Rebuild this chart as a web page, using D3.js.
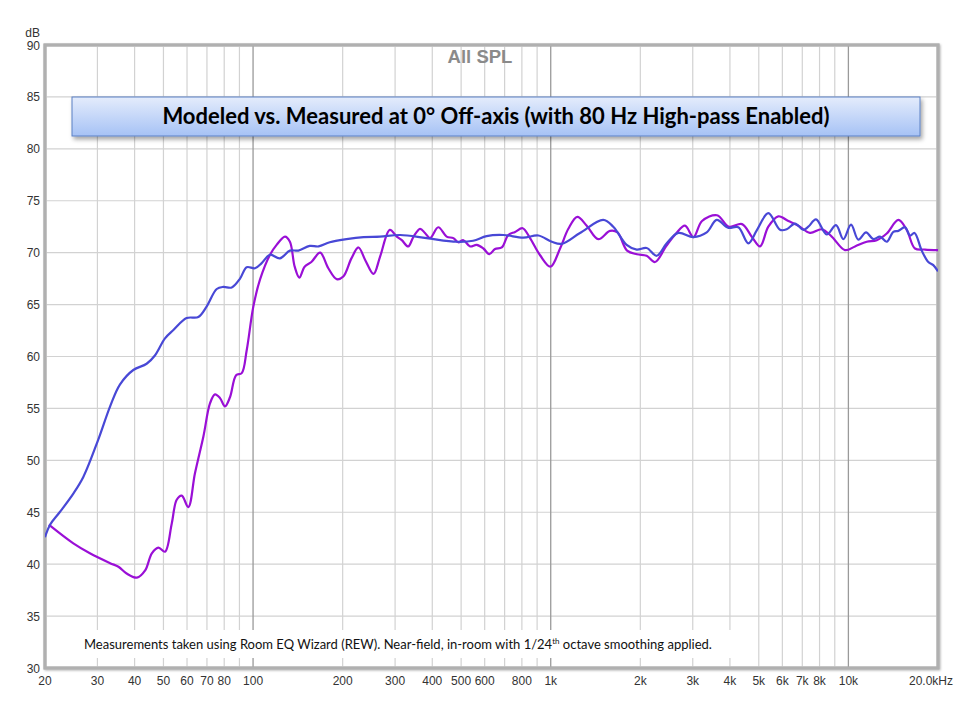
<!DOCTYPE html>
<html>
<head>
<meta charset="utf-8">
<script src="https://cdn.jsdelivr.net/npm/d3@7"></script>
<style>
  html, body { margin: 0; padding: 0; background: #fff; }
  svg { display: block; }
</style>
</head>
<body>
<svg id="chart" width="960" height="720"></svg>
<script>
// ---------------- DATA ----------------
const titleText = "Modeled vs. Measured at 0\u00B0 Off-axis (with 80 Hz High-pass Enabled)";
const chartLabel = "All SPL";
const noteText = "Measurements taken using Room EQ Wizard (REW). Near-field, in-room  with 1/24";
const noteSup = "th";
const noteTail = " octave smoothing  applied.";

const yTicks = [30, 35, 40, 45, 50, 55, 60, 65, 70, 75, 80, 85, 90];
const gridFreqs = [30,40,50,60,70,80,90,100,200,300,400,500,600,700,800,900,
                   1000,2000,3000,4000,5000,6000,7000,8000,9000,10000];
const majorFreqs = [100, 1000, 10000];
const xLabelFreqs = [20,30,40,50,60,70,80,100,200,300,400,500,600,800,1000,2000,3000,4000,5000,6000,7000,8000,10000];
const xLabelTexts = ["20","30","40","50","60","70","80","100","200","300","400","500","600","800","1k","2k","3k","4k","5k","6k","7k","8k","10k"];
const lastLabel = "20.0kHz";

// Series 1 (blue) - Modeled
const modeledFreq = [20,20.8,22.4,24.9,26.9,30.2,33.1,35.7,39.6,43.9,46.8,50.6,54,59.8,65.5,69.8,75.5,79.4,84.8,90.4,
  95.2,101.5,106.9,114,123,133,142,155,166,181,206,235,267,312,383,483,549,609,693,809,
  909,1008,1089,1254,1501,1622,1799,1944,2100,2270,2453,2683,3013,3342,3611,3941,4268,4612,4933,5383,
  5892,6205,6617,7056,7334,7783,8455,9087,9616,10207,10800,11465,12130,12775,13454,14159,14717,15500,16111,16681,
  17630,18556,19287,20000];
const modeledDb = [42.6,43.8,45.0,46.8,48.4,52.0,55.2,57.3,58.7,59.3,60.1,61.75,62.55,63.7,63.8,64.8,66.5,66.7,66.65,67.5,
  68.6,68.5,69.0,69.8,69.45,70.2,70.2,70.65,70.6,71.0,71.3,71.5,71.55,71.7,71.4,71.05,71.15,71.6,71.7,71.45,
  71.65,71.05,70.85,71.9,73.15,72.5,70.75,70.3,70.45,69.7,70.9,71.9,71.5,71.95,73.15,72.4,72.45,70.9,72.2,73.8,
  72.2,72.25,72.8,72.2,72.5,73.2,71.75,72.65,71.3,72.7,71.25,71.95,71.3,71.55,71.05,72.0,72.1,72.45,71.65,71.9,
  70.2,69.1,68.8,68.2];

// Series 2 (purple) - Measured
const measuredFreq = [20.6,24.9,28.3,33.1,35.3,37.6,40.7,43.4,45.7,48.1,50.6,53.3,55.4,57.6,60.6,63.8,68.1,71.7,74.5,77.4,
  80.5,83.7,87.7,91.6,95.2,100.2,105.5,114,120,128,133,138,143,149,157,168,179,191,201,214,
  226,238,254,267,288,304,316,332,346,364,378,393,419,447,471,489,509,536,564,594,
  622,650,685,720,759,805,852,921,998,1075,1146,1228,1321,1445,1582,1676,1805,1949,2100,2241,
  2440,2636,2825,3017,3223,3619,3970,4391,4745,5049,5383,5815,6286,6791,7432,8137,8790,9742,10527,11523,
  12451,13454,14717,15702,16743,18091,20000];
const measuredDb = [43.8,42.0,41.05,40.1,39.75,39.1,38.7,39.4,41.05,41.6,41.2,43.9,46.2,46.6,45.5,48.75,52.3,55.5,56.35,56.0,
  55.2,56.1,58.2,58.4,60.6,64.8,67.4,69.8,70.75,71.55,71.05,68.65,67.6,68.65,69.1,70.0,68.5,67.45,67.7,69.45,
  70.5,69.3,67.95,69.6,72.2,71.55,71.2,70.6,71.55,72.3,71.9,71.4,72.45,71.55,71.4,71.0,71.2,70.6,70.75,70.4,
  69.85,70.35,70.5,71.7,72.0,72.35,71.4,69.75,68.65,70.4,72.3,73.45,72.6,71.3,72.1,71.95,70.2,69.85,69.7,69.1,
  70.6,71.85,72.6,71.5,73.05,73.6,72.5,72.75,71.5,70.6,72.5,73.5,73.05,72.6,71.9,72.25,71.55,70.25,70.6,71.05,
  71.2,71.85,73.15,72.2,70.4,70.3,70.25];

// ---------------- LAYOUT ----------------
const L = 45, R = 938, T = 45, B = 668;
const svg = d3.select("#chart");
const x = d3.scaleLog().domain([20, 20000]).range([L, R]);
const y = d3.scaleLinear().domain([30, 90]).range([B, T]);

const defs = svg.append("defs");
const grad = defs.append("linearGradient").attr("id", "boxGrad")
  .attr("x1", 0).attr("y1", 0).attr("x2", 0).attr("y2", 1);
grad.append("stop").attr("offset", "0%").attr("stop-color", "#e4ecfc");
grad.append("stop").attr("offset", "100%").attr("stop-color", "#a6c2f5");
const sh = defs.append("filter").attr("id", "shadow").attr("x", "-5%").attr("y", "-20%").attr("width", "110%").attr("height", "160%");
sh.append("feDropShadow").attr("dx", 2).attr("dy", 3).attr("stdDeviation", 2).attr("flood-color", "#000").attr("flood-opacity", 0.35);
const sh2 = defs.append("filter").attr("id", "pshadow").attr("x", "-2%").attr("y", "-2%").attr("width", "104%").attr("height", "104%");
sh2.append("feDropShadow").attr("dx", 1).attr("dy", 1).attr("stdDeviation", 1.2).attr("flood-color", "#000").attr("flood-opacity", 0.3);

// plot background + frame shadow
svg.append("rect").attr("x", L).attr("y", T).attr("width", R - L).attr("height", B - T)
  .attr("fill", "#fff").attr("stroke", "#b4b4b4").attr("stroke-width", 3).attr("filter", "url(#pshadow)");

// horizontal grid
svg.append("g").selectAll("line").data(yTicks.filter(d => d > 30 && d < 90)).join("line")
  .attr("x1", L).attr("x2", R).attr("y1", d => y(d)).attr("y2", d => y(d))
  .attr("stroke", "#d2d2d2").attr("stroke-width", 1.2);

// vertical grid
svg.append("g").selectAll("line").data(gridFreqs).join("line")
  .attr("x1", d => x(d)).attr("x2", d => x(d)).attr("y1", T).attr("y2", B)
  .attr("stroke", d => majorFreqs.includes(d) ? "#9a9a9a" : "#d2d2d2")
  .attr("stroke-width", d => majorFreqs.includes(d) ? 1.3 : 1.2);

// frame on top
svg.append("rect").attr("x", L).attr("y", T).attr("width", R - L).attr("height", B - T)
  .attr("fill", "none").attr("stroke", "#b0b0b0").attr("stroke-width", 3);

// y tick labels
svg.append("g").selectAll("text").data(yTicks).join("text")
  .attr("x", 40).attr("y", d => y(d) + 4.5).attr("text-anchor", "end")
  .attr("font-family", "Liberation Sans, Arial, sans-serif").attr("font-size", 12).attr("fill", "#333")
  .text(d => d);
svg.append("text").attr("x", 40).attr("y", 37).attr("text-anchor", "end")
  .attr("font-family", "Liberation Sans, Arial, sans-serif").attr("font-size", 12).attr("fill", "#333").text("dB");

// x tick labels
svg.append("g").selectAll("text").data(xLabelFreqs).join("text")
  .attr("x", d => x(d)).attr("y", 685).attr("text-anchor", "middle")
  .attr("font-family", "Liberation Sans, Arial, sans-serif").attr("font-size", 12).attr("fill", "#333")
  .text((d, i) => xLabelTexts[i]);
svg.append("text").attr("x", 953).attr("y", 685).attr("text-anchor", "end")
  .attr("font-family", "Liberation Sans, Arial, sans-serif").attr("font-size", 12).attr("fill", "#333").text(lastLabel);

// "All SPL"
svg.append("text").attr("x", 480).attr("y", 63).attr("text-anchor", "middle")
  .attr("font-family", "Liberation Sans, Arial, sans-serif").attr("font-weight", "bold").attr("font-size", 18.5)
  .attr("fill", "#8a8a8a").text(chartLabel);

// Title box
svg.append("rect").attr("x", 72).attr("y", 97).attr("width", 848).attr("height", 39)
  .attr("fill", "url(#boxGrad)").attr("stroke", "#5b80c4").attr("stroke-width", 1).attr("filter", "url(#shadow)");
svg.append("text").attr("x", 496).attr("y", 124).attr("text-anchor", "middle")
  .attr("font-family", "Lato, 'Open Sans', sans-serif").attr("font-weight", "bold").attr("font-size", 22)
  .attr("fill", "#000").text(titleText);

// Note box
svg.append("rect").attr("x", 80).attr("y", 630).attr("width", 655).attr("height", 28).attr("fill", "#fff");
const note = svg.append("text").attr("x", 84).attr("y", 649)
  .attr("font-family", "Lato, 'Open Sans', sans-serif").attr("font-size", 13).attr("fill", "#111");
note.append("tspan").text(noteText);
note.append("tspan").attr("dy", -5).attr("font-size", 8).text(noteSup);
note.append("tspan").attr("dy", 5).text(noteTail);

// Curves
const line = d3.line().x(d => x(d[0])).y(d => y(d[1])).curve(d3.curveCatmullRom.alpha(0.5));
const clip = defs.append("clipPath").attr("id", "plotClip");
clip.append("rect").attr("x", L).attr("y", T).attr("width", R - L).attr("height", B - T);

svg.append("path").datum(d3.zip(measuredFreq, measuredDb))
  .attr("d", line).attr("fill", "none").attr("stroke", "#9a0fd6").attr("stroke-width", 2.2)
  .attr("clip-path", "url(#plotClip)");
svg.append("path").datum(d3.zip(modeledFreq, modeledDb))
  .attr("d", line).attr("fill", "none").attr("stroke", "#4848d6").attr("stroke-width", 2.2)
  .attr("clip-path", "url(#plotClip)");
</script>
</body>
</html>
